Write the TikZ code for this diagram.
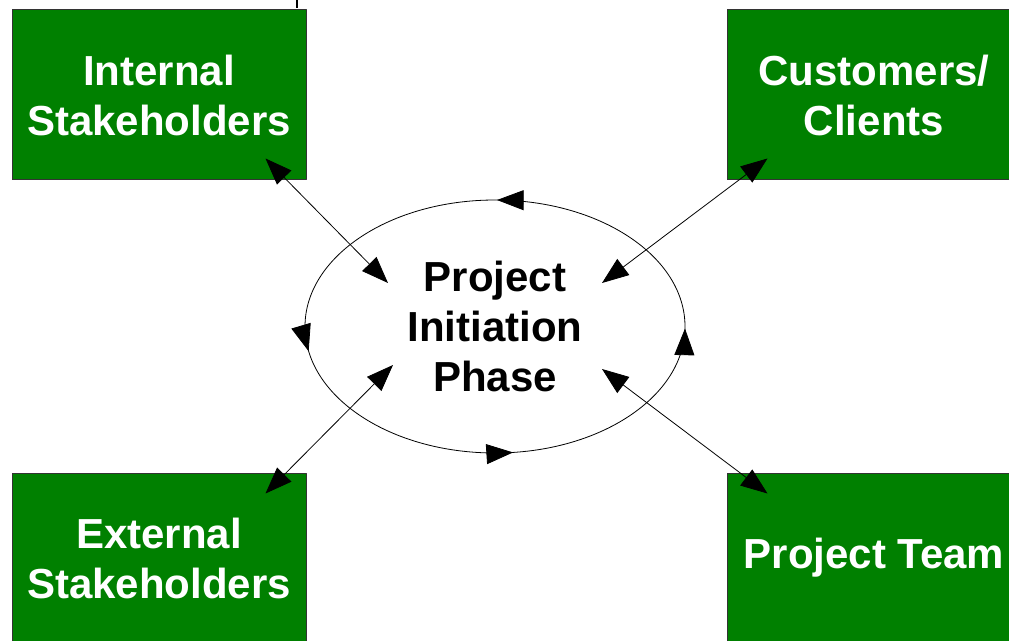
\documentclass[tikz,border=0pt]{standalone}
\usepackage{fontspec}
\setmainfont{Liberation Sans}
\usetikzlibrary{arrows.meta,calc,decorations.markings}
\definecolor{boxgreen}{RGB}{0,128,0}
\begin{document}
\begin{tikzpicture}[x=0.75pt, y=0.75pt, line join=round,
  label/.style={text=white, align=center, font=\fontsize{31.5}{37.5}\selectfont\bfseries},
  party/.style={label, draw=black!80, line width=0.75pt, fill=boxgreen, minimum width=220.5pt, minimum height=127.5pt, inner sep=0pt},
  link/.style={line width=0.6pt, {Triangle[length=20pt,width=15pt]}-{Triangle[length=20pt,width=15pt]}},
  cycle/.style={line width=0.6pt, postaction={decorate}, decoration={markings,
    mark=at position 0.248 with {\arrow{Triangle[length=20pt,width=15pt]}},
    mark=at position 0.525 with {\arrow{Triangle[length=20pt,width=15pt]}},
    mark=at position 0.768 with {\arrow{Triangle[length=20pt,width=15pt]}},
    mark=at position 0.998 with {\arrow{Triangle[length=20pt,width=15pt]}}}}]
\useasboundingbox (0,0) rectangle (1009,640);
\clip (0,0) rectangle (1009,640);
% the four parties
\node[party] (intl) at (159,545) {Internal\\Stakeholders};
\node[party] (cust) at (874,545) {Customers/\\Clients};
\node[party] (extl) at (159,82) {External\\Stakeholders};
\node[party] (team) at (874,82) {Project Team};
% phase in the middle, with its loop
\node[label, text=black] (phase) at (495,313.5) {Project\\Initiation\\Phase};
\draw[cycle] (phase.center) ellipse [x radius=190, y radius=126.5];
% two-way links
\draw[link] ($(intl.south east)+(-41,22)$) -- ($(phase.center)+(-107,43.5)$);
\draw[link] ($(cust.south west)+(41,22)$) -- ($(phase.center)+(107,43.5)$);
\draw[link] ($(extl.north east)+(-41,-21)$) -- ($(phase.center)+(-102,-38.5)$);
\draw[link] ($(team.north west)+(41,-21)$) -- ($(phase.center)+(107,-42.5)$);
\draw[line width=1.5pt] (296.5,640) -- (296.5,632);
\end{tikzpicture}
\end{document}
